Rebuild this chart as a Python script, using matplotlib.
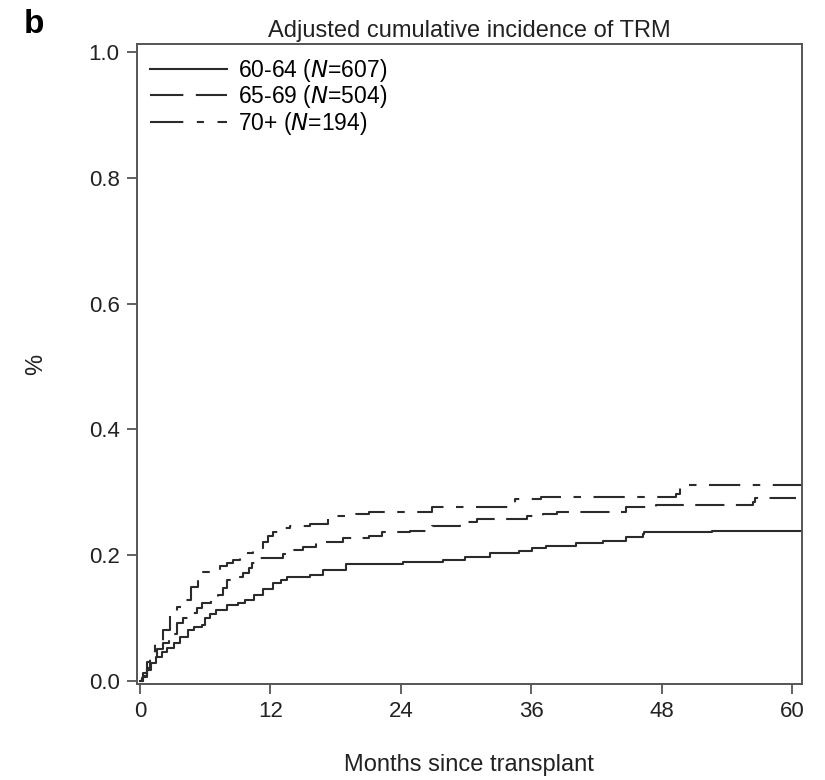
"""Adjusted cumulative incidence of TRM by age group (step curves)."""

import matplotlib

matplotlib.use("Agg")
import matplotlib.pyplot as plt
from matplotlib.lines import Line2D

plt.rcParams["font.family"] = ["Liberation Sans", "DejaVu Sans"]

# event times (months) and cumulative incidence after each step
t_6064 = [0, 0.15, 0.3, 0.6, 1.0, 1.5, 2.0, 2.5, 3.1, 3.7, 4.4, 5.0, 5.7,
          6.0, 6.4, 7.0, 8.0, 9.0, 9.7, 10.5, 11.3, 12.2, 13.0, 13.5, 15.6,
          16.8, 19.0, 24.2, 27.9, 29.9, 32.2, 34.9, 36.1, 37.4, 40.1, 42.6,
          44.7, 46.3, 46.4, 52.6, 60.9]
y_6064 = [0, 0.004, 0.008, 0.018, 0.028, 0.038, 0.046, 0.053, 0.060, 0.070,
          0.081, 0.086, 0.089, 0.100, 0.107, 0.113, 0.120, 0.124, 0.128,
          0.137, 0.147, 0.155, 0.161, 0.165, 0.168, 0.177, 0.186, 0.189,
          0.193, 0.197, 0.204, 0.206, 0.211, 0.214, 0.219, 0.223, 0.229,
          0.234, 0.237, 0.239, 0.239]

t_6569 = [0, 0.3, 0.6, 0.9, 1.2, 1.6, 2.1, 2.7, 3.4, 4.0, 4.7, 5.2, 5.7, 6.5,
          7.2, 7.6, 8.0, 8.8, 9.5, 10.0, 10.3, 11.0, 13.2, 13.8, 15.0, 16.2,
          18.7, 21.1, 22.3, 24.8, 26.9, 29.4, 31.0, 35.6, 37.1, 38.4, 44.7,
          47.5, 56.4, 56.6, 60.4]
y_6569 = [0, 0.007, 0.020, 0.030, 0.038, 0.050, 0.060, 0.075, 0.092, 0.100,
          0.108, 0.116, 0.124, 0.130, 0.136, 0.148, 0.160, 0.166, 0.171,
          0.180, 0.187, 0.195, 0.202, 0.208, 0.213, 0.221, 0.227, 0.231,
          0.237, 0.239, 0.247, 0.252, 0.257, 0.263, 0.266, 0.268, 0.276,
          0.280, 0.284, 0.291, 0.291]

t_70 = [0, 0.3, 0.6, 0.9, 1.4, 2.1, 2.8, 3.4, 4.0, 4.7, 5.3, 5.8, 7.4, 8.0,
        8.6, 9.2, 9.8, 10.4, 11.3, 11.8, 12.2, 13.0, 13.8, 15.6, 17.3, 19.9,
        21.1, 26.9, 31.0, 34.5, 36.9, 49.3, 49.7, 60.9]
y_70 = [0, 0.013, 0.030, 0.044, 0.060, 0.081, 0.105, 0.117, 0.128, 0.149,
        0.165, 0.173, 0.182, 0.187, 0.192, 0.197, 0.203, 0.211, 0.221, 0.230,
        0.237, 0.243, 0.247, 0.249, 0.263, 0.266, 0.269, 0.276, 0.277, 0.290,
        0.292, 0.298, 0.311, 0.311]

labels = ["60-64 ($\\mathit{N}$=607)", "65-69 ($\\mathit{N}$=504)",
          "70+ ($\\mathit{N}$=194)"]
xticks = [0, 12, 24, 36, 48, 60]
yticks = [0.0, 0.2, 0.4, 0.6, 0.8, 1.0]

INK = "#2b2b2b"
TXT = "#222222"
LW = 1.5
DASH_LONG = (0, (14, 5.5))
DASH_MIX = (0, (15, 6, 3.6, 6))

fig = plt.figure(figsize=(8.25, 7.8), dpi=100)
ax = fig.add_axes([0.166, 0.123, 0.806, 0.8205])

ax.plot(t_6064, y_6064, drawstyle="steps-post", color=INK, lw=LW)
ax.plot(t_6569, y_6569, drawstyle="steps-post", color=INK, lw=LW,
        linestyle=DASH_LONG)
ax.plot(t_70, y_70, drawstyle="steps-post", color=INK, lw=LW,
        linestyle=DASH_MIX)

ax.set_xlim(-0.28, 60.9)
ax.set_ylim(-0.005, 1.013)
ax.set_xticks(xticks)
ax.set_yticks(yticks)
ax.set_yticklabels([f"{v:.1f}" for v in yticks])
ax.tick_params(direction="out", length=7.5, width=1.3, color="#555555",
               labelsize=16, labelcolor=TXT, pad=5)
for s in ax.spines.values():
    s.set_color("#555555")
    s.set_linewidth(1.4)

ax.set_title("Adjusted cumulative incidence of TRM", fontsize=17,
             color=TXT, pad=5)
ax.set_xlabel("Months since transplant", fontsize=17, color=TXT,
              labelpad=23)
ax.set_ylabel("%", fontsize=17, color=TXT, labelpad=30)
fig.text(0.029, 0.988, "b", fontsize=24, fontweight="bold", va="top",
         ha="left")

# legend handles (the 70+ key shows a long dash then two short ones)
handles = [
    Line2D([], [], color=INK, lw=LW),
    Line2D([], [], color=INK, lw=LW, linestyle=(0, (16, 6))),
    Line2D([], [], color=INK, lw=LW, linestyle=(0, (16, 6.5, 3.4, 6.5, 5, 8))),
]
ax.legend(handles, labels, loc="upper left", frameon=False, fontsize=16.5,
          handlelength=3.4, handletextpad=0.45, labelspacing=-0.02,
          borderaxespad=0.15, bbox_to_anchor=(0.0, 1.0))

fig.savefig("out.png", dpi=100)
